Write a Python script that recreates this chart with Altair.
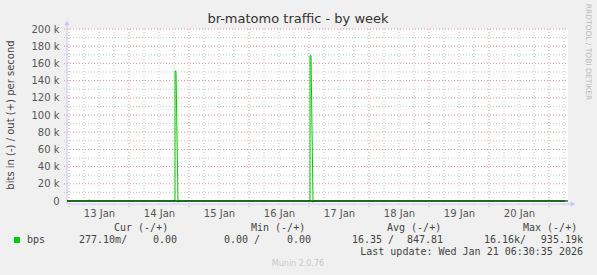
import altair as alt
import pandas as pd

# ---------------- data ----------------
out_times = ["2026-01-12T23:12", "2026-01-13T07:40", "2026-01-13T08:00", "2026-01-13T08:20",
             "2026-01-14T18:24", "2026-01-14T18:25", "2026-01-14T18:48", "2026-01-14T19:36",
             "2026-01-17T00:24", "2026-01-17T00:25", "2026-01-17T00:48", "2026-01-17T01:36",
             "2026-01-20T23:40", "2026-01-21T00:00", "2026-01-21T00:20", "2026-01-21T06:30"]
out_values = [0, 0, 1500, 0,
              0, 151000, 151000, 0,
              0, 169000, 169000, 0,
              0, 1500, 0, 0]

in_times = ["2026-01-12T23:12", "2026-01-14T19:12", "2026-01-14T19:36", "2026-01-14T20:00",
            "2026-01-17T01:12", "2026-01-17T01:36", "2026-01-17T02:00", "2026-01-21T06:30"]
in_values = [0, 0, -1500, 0, 0, -1500, 0, 0]

day_labels_at = ["2026-01-13T12:00", "2026-01-14T12:00", "2026-01-15T12:00", "2026-01-16T12:00",
                 "2026-01-17T12:00", "2026-01-18T12:00", "2026-01-19T12:00", "2026-01-20T12:00"]
y_ticks = [0, 20000, 40000, 60000, 80000, 100000, 120000, 140000, 160000, 180000, 200000]

title = "br-matomo traffic - by week"
y_title = "bits in (-) / out (+) per second"
side_text = "RRDTOOL / TOBI OETIKER"
legend_headers = ["Cur (-/+)", "Min (-/+)", "Avg (-/+)", "Max (-/+)"]
legend_name = "bps"
legend_left_vals = ["277.10m/", "0.00 /", "16.35 /", "16.16k/"]
legend_right_vals = ["0.00", "0.00", "847.81", "935.19k"]
last_update = "Last update: Wed Jan 21 06:30:35 2026"
munin_ver = "Munin 2.0.76"

# ---------------- layout ----------------
LEFT, TOP = 67, 29
W, H = 501, 175
GREEN = "#00CC00"
AXIS_COL = "#C8C8F0"
MINOR_COL = "#C8C8C8"
MAJOR_COL = "#E49A9A"

x_dom = [pd.Timestamp("2026-01-12T23:12").isoformat(), pd.Timestamp("2026-01-21T07:36").isoformat()]
xs = alt.Scale(type="utc", domain=x_dom, nice=False)
ys = alt.Scale(domain=[-3488, 200000], nice=False, zero=False)

X_AXIS = alt.Axis(
    values=[pd.Timestamp(d).isoformat() for d in day_labels_at],
    labelExpr="utcFormat(datum.value, '%d %b')", title=None, domain=False, ticks=False,
    grid=False, labelPadding=4, labelFont="DejaVu Sans", labelFontSize=10, labelColor="#555555")
Y_AXIS = alt.Axis(
    values=y_ticks, labelExpr="datum.value == 0 ? '0' : (datum.value / 1000) + ' k'",
    title=None, domain=False, ticks=False, grid=False, labelPadding=8,
    labelFont="DejaVu Sans", labelFontSize=10, labelColor="#555555")

out_df = pd.DataFrame({"t": out_times, "v": out_values, "i": range(len(out_times))})
in_df = pd.DataFrame({"t": in_times, "v": in_values, "i": range(len(in_times))})

majors = pd.date_range("2026-01-13", "2026-01-21", freq="D")
minors_all = pd.date_range("2026-01-13", "2026-01-21T06:00", freq="6h")
minors = [t for t in minors_all if t.hour != 0]
major_df = pd.DataFrame({"t": [t.strftime("%Y-%m-%dT%H:%M") for t in majors]})
minor_df = pd.DataFrame({"t": [t.strftime("%Y-%m-%dT%H:%M") for t in minors]})
hmaj_df = pd.DataFrame({"v": list(range(20000, 200001, 20000))})
hmin_df = pd.DataFrame({"v": list(range(10000, 200000, 20000))})
one = pd.DataFrame({"a": [0]})

dot = [1, 2]

vminor = alt.Chart(minor_df).mark_rule(color=MINOR_COL, strokeDash=dot, strokeWidth=1).encode(
    x=alt.X("t:T", scale=xs, axis=X_AXIS))
vmajor = alt.Chart(major_df).mark_rule(color=MAJOR_COL, strokeDash=dot, strokeWidth=1).encode(
    x=alt.X("t:T", scale=xs, axis=X_AXIS), y=alt.value(0), y2=alt.value(H + 3))
hminor = alt.Chart(hmin_df).mark_rule(color=MINOR_COL, strokeDash=dot, strokeWidth=1).encode(
    y=alt.Y("v:Q", scale=ys, axis=Y_AXIS), x=alt.value(-3), x2=alt.value(W))
hmajor = alt.Chart(hmaj_df).mark_rule(color=MAJOR_COL, strokeDash=dot, strokeWidth=1).encode(
    y=alt.Y("v:Q", scale=ys, axis=Y_AXIS), x=alt.value(-3), x2=alt.value(W))

# axis lines and arrows
yaxis_line = alt.Chart(one).mark_rule(color=AXIS_COL).encode(
    x=alt.value(0), y=alt.value(-5), y2=alt.value(H))
xaxis_line = alt.Chart(one).mark_rule(color=AXIS_COL).encode(
    y=alt.value(H), x=alt.value(0), x2=alt.value(W + 4))
yarrow = alt.Chart(one).mark_point(shape="triangle-up", filled=True, size=30, color=AXIS_COL, opacity=1).encode(
    x=alt.value(0), y=alt.value(-6))
xarrow = alt.Chart(one).mark_point(shape="triangle-right", filled=True, size=30, color=AXIS_COL, opacity=1).encode(
    x=alt.value(W + 5), y=alt.value(H))

# series
out_line = alt.Chart(out_df).mark_line(color=GREEN, strokeWidth=1, interpolate="linear").encode(
    x=alt.X("t:T", scale=xs, axis=X_AXIS), y=alt.Y("v:Q", scale=ys, axis=Y_AXIS), order="i:Q")
in_line = alt.Chart(in_df).mark_line(color=GREEN, strokeWidth=1, interpolate="linear").encode(
    x=alt.X("t:T", scale=xs, axis=X_AXIS), y=alt.Y("v:Q", scale=ys, axis=Y_AXIS), order="i:Q")
zero_line = alt.Chart(pd.DataFrame({"v": [0]})).mark_rule(color="#000000", strokeWidth=1.2).encode(
    y=alt.Y("v:Q", scale=ys, axis=Y_AXIS), x=alt.value(0), x2=alt.value(W))


def txt(s, x, y, size=10, font="DejaVu Sans Mono", color="#444444", align="left", angle=0, baseline="middle"):
    return alt.Chart(one).mark_text(text=s, font=font, fontSize=size, color=color, align=align,
                                    baseline=baseline, angle=angle).encode(
        x=alt.value(x - LEFT), y=alt.value(y - TOP))


texts = [
    txt(title, 298, 19, size=13, font="DejaVu Sans", color="#333333", align="center"),
    txt(y_title, 11, 115, size=10, font="DejaVu Sans", color="#444444", align="center", angle=270),
    txt(side_text, 588, 52, size=7.5, font="DejaVu Sans", color="#BBBBBB", align="center", angle=90),
    txt(legend_name, 27, 240),
    txt(last_update, 583, 252, align="right"),
    txt(munin_ver, 298, 264, size=8, font="DejaVu Sans", color="#C8C8C8", align="center"),
]
for s, x in zip(legend_headers, [114, 251, 387, 523]):
    texts.append(txt(s, x, 228))
for s, x in zip(legend_left_vals, [79, 224, 352, 484]):
    texts.append(txt(s, x, 240))
for s, x in zip(legend_right_vals, [177, 311, 443, 583]):
    texts.append(txt(s, x, 240, align="right"))

swatch = alt.Chart(one).mark_rect(color=GREEN).encode(
    x=alt.value(14 - LEFT), x2=alt.value(20 - LEFT), y=alt.value(237 - TOP), y2=alt.value(243 - TOP))

chart = alt.layer(
    vminor, hminor, vmajor, hmajor, yaxis_line, xaxis_line, yarrow, xarrow,
    out_line, in_line, zero_line, swatch, *texts
).properties(
    width=W, height=H,
    autosize=alt.AutoSizeParams(type="none"),
    padding={"left": LEFT, "top": TOP, "right": 597 - LEFT - W, "bottom": 275 - TOP - H},
).configure(background="#F0F0F0").configure_view(fill="white", strokeWidth=0)

chart.save("out.html", embed_options={"renderer": "svg", "actions": False})
